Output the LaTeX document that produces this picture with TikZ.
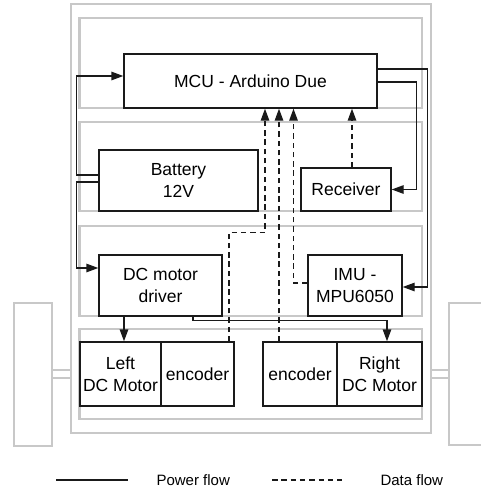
\documentclass[tikz,border=0pt]{standalone}
\usepackage{fontspec}
\setmainfont{Liberation Sans}
\usetikzlibrary{arrows.meta}
\definecolor{frameGrey}{HTML}{C8C8C8}
\definecolor{lineBlack}{HTML}{1A1A1A}

\begin{document}
\begin{tikzpicture}[x=1pt, y=-1pt,
    box/.style={draw=lineBlack, line width=1.4pt, fill=white, inner sep=0pt,
      align=center, font=\fontsize{17.5}{22}\selectfont},
    powerflow/.style={draw=lineBlack, line width=1.4pt},
    dataflow/.style={draw=lineBlack, line width=1.4pt, dash pattern=on 5.5pt off 3.8pt},
    headarrow/.style={-{Triangle[length=12pt, width=8.5pt]}},
    layer/.style={draw=frameGrey, line width=2.8pt},
    keytext/.style={anchor=base west, font=\fontsize{15}{18}\selectfont}]
    \clip (0,0) rectangle (481,487);

    % chassis : cadre, étages et roues
    \draw[layer] (71,4) rectangle (431,433);
    \foreach \top/\bot in {18/108, 122/211, 226/316, 329/419}
      \draw[layer] (79.5,\top) rectangle (422,\bot);
    \draw[layer] (14,303) rectangle (52,446);
    \draw[layer] (449,303) rectangle (495,445);
    \foreach \y in {370, 378} {
      \draw[layer] (52,\y) -- (71,\y);
      \draw[layer] (431,\y) -- (449,\y);
    }

    \node[box, minimum width=253pt, minimum height=54pt] (mcu) at (250.5,81) {MCU - Arduino Due};
    \node[box, minimum width=159pt, minimum height=61pt] (batt) at (178.5,180.5) {Battery\\12V};
    \node[box, minimum width=90pt, minimum height=43pt] (recv) at (346,189.5) {Receiver};
    \node[box, minimum width=123pt, minimum height=61pt] (drv) at (160.5,285.5) {DC motor\\driver};
    \node[box, minimum width=94pt, minimum height=61pt] (imu) at (355,285.5) {IMU -\\MPU6050};
    \node[box, minimum width=81pt, minimum height=64pt] (lmot) at (120.5,374) {Left\\DC Motor};
    \node[box, minimum width=73pt, minimum height=64pt] (lenc) at (197.5,374) {encoder};
    \node[box, minimum width=74pt, minimum height=64pt] (renc) at (300,374) {encoder};
    \node[box, minimum width=85pt, minimum height=64pt] (rmot) at (379.5,374) {Right\\DC Motor};

    % alimentation
    \draw[powerflow, headarrow] ([yshift=5.5pt]batt.west) -- ++(-22,0) |- ([yshift=5pt]mcu.west);
    \draw[powerflow, headarrow] ([yshift=-1.5pt]batt.west) -- ++(-22,0) |- ([yshift=17.5pt]drv.west);
    \draw[powerflow, headarrow] ([yshift=12pt]mcu.east) -- ++(50,0) |- ([yshift=-1.5pt]imu.east);
    \draw[powerflow, headarrow] ([yshift=-1pt]mcu.east) -- ++(39,0) |- (recv.east);
    \draw[powerflow, headarrow] ([xshift=-36.5pt]drv.south) -- ([xshift=3.5pt]lmot.north);
    \draw[powerflow, headarrow] ([xshift=32.5pt]drv.south) -- ++(0,4) -| ([xshift=7.5pt]rmot.north);

    % données
    \draw[dataflow, headarrow] ([xshift=6pt]recv.north) -- ([xshift=101.5pt]mcu.south);
    \draw[dataflow, headarrow] ([xshift=31.5pt]lenc.north) -- ++(0,-109) -| ([xshift=14.5pt]mcu.south);
    \draw[dataflow, headarrow] ([xshift=-21pt]renc.north) -- ([xshift=28.5pt]mcu.south);
    \draw[dataflow, headarrow] ([yshift=2.5pt]imu.west) -| ([xshift=43pt]mcu.south);

    % légende
    \coordinate (pwA) at (56,480);
    \coordinate (pwB) at (128,480);
    \coordinate (dtA) at (272,480);
    \coordinate (dtB) at (342,480);
    \draw[powerflow] (pwA) -- (pwB);
    \draw[dataflow] (dtA) -- (dtB);
    \node[keytext] (pwkey) at (153,485) {Power flow};
    \node[keytext] (dtkey) at (377,485) {Data flow};
  \end{tikzpicture}
\end{document}
